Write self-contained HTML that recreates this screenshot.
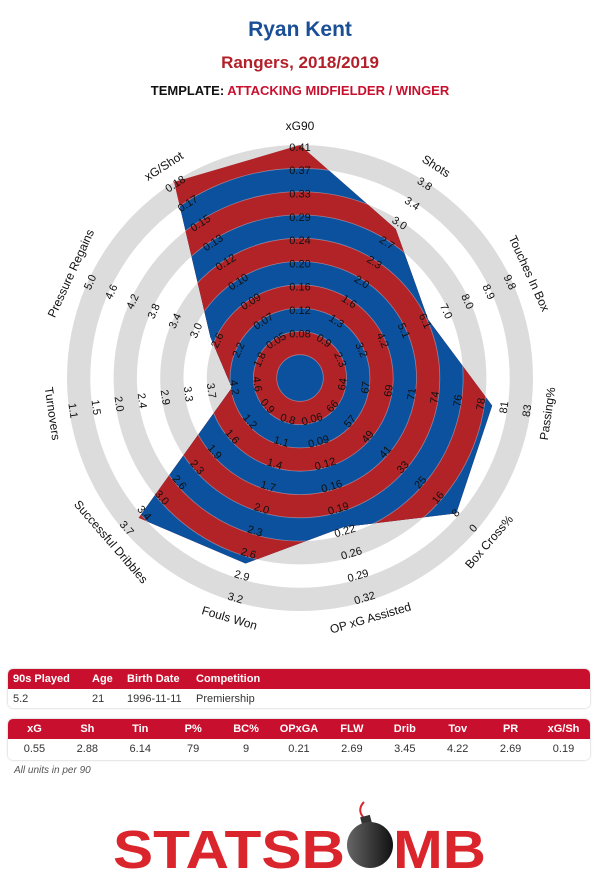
<!DOCTYPE html>
<html><head><meta charset="utf-8">
<style>
body{margin:0;width:600px;height:880px;background:#fff;font-family:"Liberation Sans",sans-serif;position:relative;overflow:hidden}
.t{position:absolute;left:0;width:600px;text-align:center;font-weight:bold}
.tbl{position:absolute;left:8px;width:582px;border-radius:5px;box-shadow:0 0 2px #bbb;overflow:hidden;font-size:11px}
.hd{background:#c8102e;color:#fff;font-weight:bold;height:20px;position:relative}
.bd{background:#fff;color:#333;height:19px;position:relative}
.c{position:absolute;top:4px}
.g{display:flex}
.g div{flex:1;text-align:center;padding-top:4px}
</style></head><body>
<div class="t" style="top:18px;font-size:21px;color:#1a4f96">Ryan Kent</div>
<div class="t" style="top:53px;font-size:17px;color:#b3202a">Rangers, 2018/2019</div>
<div class="t" style="top:83px;font-size:13px;color:#111">TEMPLATE: <span style="color:#c8102e">ATTACKING MIDFIELDER / WINGER</span></div>

<svg id="radar" width="600" height="660" style="position:absolute;left:0;top:0" xmlns="http://www.w3.org/2000/svg"></svg>

<div class="tbl" style="top:669px">
 <div class="hd"><span class="c" style="left:5px">90s Played</span><span class="c" style="left:84px">Age</span><span class="c" style="left:119px">Birth Date</span><span class="c" style="left:188px">Competition</span></div>
 <div class="bd"><span class="c" style="left:5px">5.2</span><span class="c" style="left:84px">21</span><span class="c" style="left:119px">1996-11-11</span><span class="c" style="left:188px">Premiership</span></div>
</div>
<div class="tbl" style="top:719px">
 <div class="hd g"><div>xG</div><div>Sh</div><div>Tin</div><div>P%</div><div>BC%</div><div>OPxGA</div><div>FLW</div><div>Drib</div><div>Tov</div><div>PR</div><div>xG/Sh</div></div>
 <div class="bd g" style="height:21px"><div>0.55</div><div>2.88</div><div>6.14</div><div>79</div><div>9</div><div>0.21</div><div>2.69</div><div>3.45</div><div>4.22</div><div>2.69</div><div>0.19</div></div>
</div>
<div style="position:absolute;left:14px;top:765px;font-size:10px;font-style:italic;color:#555">All units in per 90</div>

<svg width="600" height="90" style="position:absolute;left:0;top:790px">
 <defs><linearGradient id="bg" x1="0" x2="1"><stop offset="0" stop-color="#666"/><stop offset="1" stop-color="#111"/></linearGradient></defs>
 <text x="113" y="78" font-size="54" font-weight="bold" fill="#d9252b" textLength="232" lengthAdjust="spacingAndGlyphs" font-family="Liberation Sans,sans-serif">STATSB</text>
 <text x="393" y="78" font-size="54" font-weight="bold" fill="#d9252b" textLength="93" lengthAdjust="spacingAndGlyphs" font-family="Liberation Sans,sans-serif">MB</text>
 <path d="M364,28 C358,22 360,16 364,12" stroke="#d9252b" stroke-width="2" fill="none"/>
 <rect x="361" y="26" width="10" height="8" fill="#333" transform="rotate(-15 366 30)"/>
 <circle cx="370" cy="55" r="23" fill="url(#bg)"/>
</svg>

<script>
const axisNames=["xG90","Shots","Touches In Box","Passing%","Box Cross%","OP xG Assisted","Fouls Won","Successful Dribbles","Turnovers","Pressure Regains","xG/Shot"];
const playerValues=[0.55,2.88,6.14,79,9,0.21,2.69,3.45,4.22,2.69,0.19];
const ticksXG=[0.08,0.12,0.16,0.20,0.24,0.29,0.33,0.37,0.41];
const ticksSh=[0.9,1.3,1.6,2.0,2.3,2.7,3.0,3.4,3.8];
const ticksTin=[2.3,3.2,4.2,5.1,6.1,7.0,8.0,8.9,9.8];
const ticksPass=[64,67,69,71,74,76,78,81,83];
const ticksBC=[66,57,49,41,33,25,16,8,0];
const ticksOPA=[0.06,0.09,0.12,0.16,0.19,0.22,0.26,0.29,0.32];
const ticksFW=[0.8,1.1,1.4,1.7,2.0,2.3,2.6,2.9,3.2];
const ticksDrib=[0.9,1.2,1.6,1.9,2.3,2.6,3.0,3.4,3.7];
const ticksTov=[4.6,4.2,3.7,3.3,2.9,2.4,2.0,1.5,1.1];
const ticksPR=[1.8,2.2,2.6,3.0,3.4,3.8,4.2,4.6,5.0];
const ticksXGS=[0.05,0.07,0.09,0.10,0.12,0.13,0.15,0.17,0.18];
const axisTicks=[ticksXG,ticksSh,ticksTin,ticksPass,ticksBC,ticksOPA,ticksFW,ticksDrib,ticksTov,ticksPR,ticksXGS];
const tickLabels=[
["0.08","0.12","0.16","0.20","0.24","0.29","0.33","0.37","0.41"],
["0.9","1.3","1.6","2.0","2.3","2.7","3.0","3.4","3.8"],
["2.3","3.2","4.2","5.1","6.1","7.0","8.0","8.9","9.8"],
["64","67","69","71","74","76","78","81","83"],
["66","57","49","41","33","25","16","8","0"],
["0.06","0.09","0.12","0.16","0.19","0.22","0.26","0.29","0.32"],
["0.8","1.1","1.4","1.7","2.0","2.3","2.6","2.9","3.2"],
["0.9","1.2","1.6","1.9","2.3","2.6","3.0","3.4","3.7"],
["4.6","4.2","3.7","3.3","2.9","2.4","2.0","1.5","1.1"],
["1.8","2.2","2.6","3.0","3.4","3.8","4.2","4.6","5.0"],
["0.05","0.07","0.09","0.10","0.12","0.13","0.15","0.17","0.18"]];

const CX=300,CY=378,BAND=23.3,RMAX=233,NS="http://www.w3.org/2000/svg";
const svg=document.getElementById('radar');
function el(t,a){const e=document.createElementNS(NS,t);for(const k in a)e.setAttribute(k,a[k]);return e;}
function tickR(k){return BAND*(k+2);}
function valueToR(v,t){
  // extended tick list: extrapolate one step inward at r=BAND
  const ext=[t[0]-(t[1]-t[0])].concat(t);
  const rs=ext.map((_,i)=>BAND*(i+1));
  const asc=ext[ext.length-1]>ext[0];
  const f=x=>asc?x:-x;
  if(f(v)<=f(ext[0])){const r=rs[0]+(v-ext[0])/(ext[1]-ext[0])*BAND;return Math.max(0,r);}
  for(let i=0;i<ext.length-1;i++){
    if(f(v)>=f(ext[i])&&f(v)<=f(ext[i+1]))return rs[i]+(v-ext[i])/(ext[i+1]-ext[i])*BAND;
  }
  return RMAX;
}
const N=axisNames.length;
function ang(i){return i*2*Math.PI/N;}
function pt(i,r){return [CX+r*Math.sin(ang(i)),CY-r*Math.cos(ang(i))];}

// background rings
for(let i=9;i>=0;i--){
  const c=el('circle',{cx:CX,cy:CY,r:BAND*(i+1),fill:i%2?'#dcdcdc':'#ffffff'});
  
  
  svg.appendChild(c);
}
// polygon
const pts=playerValues.map((v,i)=>pt(i,Math.min(RMAX,valueToR(v,axisTicks[i]))));
const cp=el('clipPath',{id:'polyclip'});
cp.appendChild(el('polygon',{points:pts.map(p=>p.join(',')).join(' ')}));
svg.appendChild(cp);
const g=el('g',{'clip-path':'url(#polyclip)'});


for(let i=9;i>=0;i--){
  g.appendChild(el('circle',{cx:CX,cy:CY,r:BAND*(i+1),fill:i%2?'#b22327':'#0b519d',stroke:'rgba(255,255,255,0.35)','stroke-width':0.8}));
}
svg.appendChild(g);

function rot(i){let d=ang(i)*180/Math.PI;if(d>90&&d<270)d-=180;return d;}
// tick labels
axisTicks.forEach((t,i)=>{
  tickLabels[i].forEach((lab,k)=>{
    const [x,y]=pt(i,tickR(k)-3);
    const tx=el('text',{x:x,y:y,'font-size':11,'text-anchor':'middle','dominant-baseline':'middle',fill:'#111',transform:`rotate(${rot(i)} ${x} ${y})`});
    tx.textContent=lab;
    
    
    svg.appendChild(tx);
  });
});
// axis labels
axisNames.forEach((n,i)=>{
  const [x,y]=pt(i,251);
  const tx=el('text',{x:x,y:y,'font-size':12,'text-anchor':'middle','dominant-baseline':'middle',fill:'#111',transform:`rotate(${rot(i)} ${x} ${y})`});
  tx.textContent=n;
  
  
  svg.appendChild(tx);
});
</script>
</body></html>
